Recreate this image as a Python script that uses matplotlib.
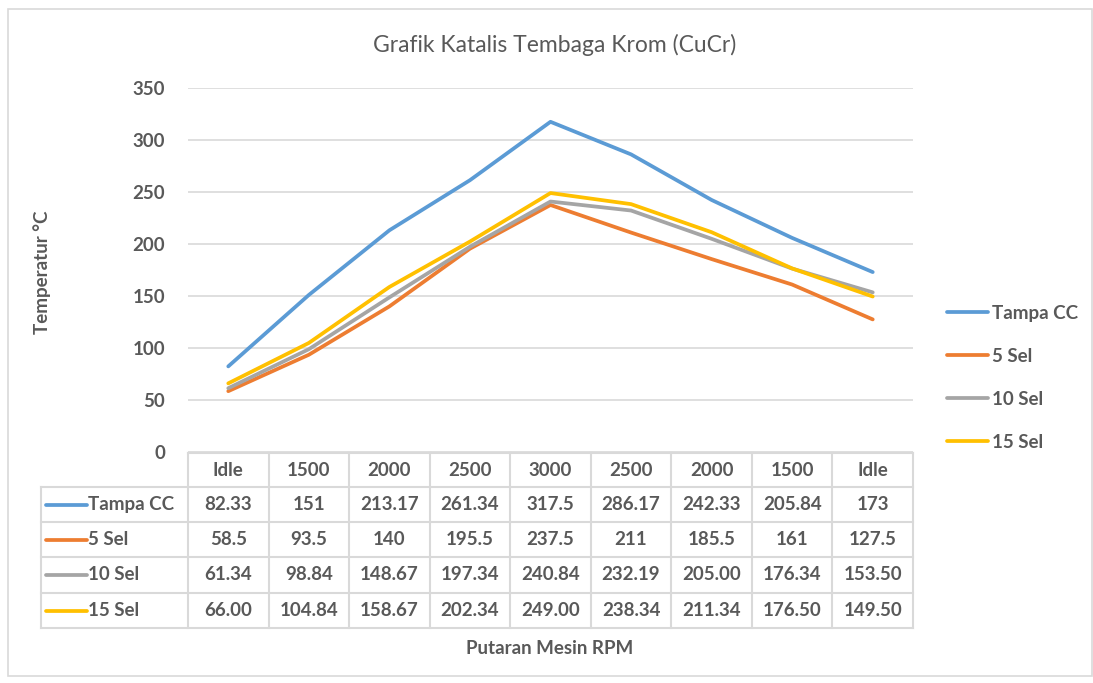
import matplotlib
matplotlib.use("Agg")
import matplotlib.pyplot as plt
from matplotlib.lines import Line2D
from matplotlib.patches import Rectangle

categories = ["Idle", "1500", "2000", "2500", "3000", "2500", "2000", "1500", "Idle"]
series_names = ["Tampa CC", "5 Sel", "10 Sel", "15 Sel"]
tampa_cc = [82.33, 151, 213.17, 261.34, 317.5, 286.17, 242.33, 205.84, 173]
sel_5 = [58.5, 93.5, 140, 195.5, 237.5, 211, 185.5, 161, 127.5]
sel_10 = [61.34, 98.84, 148.67, 197.34, 240.84, 232.19, 205.00, 176.34, 153.50]
sel_15 = [66.00, 104.84, 158.67, 202.34, 249.00, 238.34, 211.34, 176.50, 149.50]
table_text = [
    ["82.33", "151", "213.17", "261.34", "317.5", "286.17", "242.33", "205.84", "173"],
    ["58.5", "93.5", "140", "195.5", "237.5", "211", "185.5", "161", "127.5"],
    ["61.34", "98.84", "148.67", "197.34", "240.84", "232.19", "205.00", "176.34", "153.50"],
    ["66.00", "104.84", "158.67", "202.34", "249.00", "238.34", "211.34", "176.50", "149.50"],
]
yticks = [0, 50, 100, 150, 200, 250, 300, 350]
title = "Grafik Katalis Tembaga Krom (CuCr)"
ylabel = "Temperatur °C"
xlabel = "Putaran Mesin RPM"

colors = ["#5B9BD5", "#ED7D31", "#A5A5A5", "#FFC000"]
txt = "#595959"
grid = "#D9D9D9"
FONT = ["Lato", "DejaVu Sans"]
plt.rcParams['font.family'] = FONT
FS = 13.5

W, H = 1093, 683
fig = plt.figure(figsize=(W / 100, H / 100), dpi=100)
fig.patch.set_facecolor("white")

def fx(px):
    return px / W

def fy(py):
    return 1 - py / H

# outer frame
fig.add_artist(Rectangle((fx(8), fy(676)), fx(1092) - fx(8), fy(9) - fy(676),
                         transform=fig.transFigure, fill=False, edgecolor="#D9D9D9", lw=1.2))

L, R, T, B = 188, 913, 88, 452
ax = fig.add_axes([fx(L), fy(B), fx(R) - fx(L), fy(T) - fy(B)])
ax.set_xlim(-0.5, len(categories) - 0.5)
ax.set_ylim(0, 350)
ax.set_yticks(yticks)
ax.set_yticklabels([str(v) for v in yticks], color=txt, fontsize=FS, fontweight="bold")
ax.tick_params(axis="y", length=0, pad=16.5)
ax.set_xticks([])
for s in ax.spines.values():
    s.set_visible(False)
ax.yaxis.grid(True, color=grid, lw=1.2)
ax.set_axisbelow(True)

xs = list(range(len(categories)))
all_series = [tampa_cc, sel_5, sel_10, sel_15]
handles = []
for name, vals, c in zip(series_names, all_series, colors):
    h, = ax.plot(xs, vals, color=c, lw=2.7, solid_capstyle="round", label=name)
    handles.append(h)

fig.text(fx(555), fy(45), title, ha="center", va="center", color=txt, fontsize=16.5)
fig.text(fx(42), fy(272), ylabel, ha="center", va="center", rotation=90, color=txt,
         fontsize=FS, fontweight="bold")
fig.text(fx(550), fy(648), xlabel, ha="center", va="center", color=txt, fontsize=FS,
         fontweight="bold")

# legend
leg = fig.legend(handles=handles, loc="upper left", bbox_to_anchor=(fx(930), fy(288)),
                 frameon=False, prop={"family": FONT, "weight": "bold", "size": FS},
                 labelcolor=txt, handlelength=2.2, handletextpad=0.2, labelspacing=1.38)

# data table
col_edges = [ax.transData.transform((i - 0.5, 0))[0] for i in range(len(categories) + 1)]
row_edges = [453, 487, 522, 557, 593, 628]
tl = 41
tc = "#D9D9D9"

def hline(x0, x1, y):
    fig.add_artist(Line2D([fx(x0), fx(x1)], [fy(y), fy(y)], transform=fig.transFigure,
                          color=tc, lw=1.5))

def vline(x, y0, y1):
    fig.add_artist(Line2D([fx(x), fx(x)], [fy(y0), fy(y1)], transform=fig.transFigure,
                          color=tc, lw=1.5))

xr = col_edges[-1]
hline(L, xr, row_edges[0])
for y in row_edges[1:]:
    hline(tl, xr, y)
vline(tl, row_edges[1], row_edges[-1])
for x in col_edges:
    vline(x, row_edges[0], row_edges[-1])

for i, cat in enumerate(categories):
    cx = (col_edges[i] + col_edges[i + 1]) / 2
    cy = (row_edges[0] + row_edges[1]) / 2
    fig.text(fx(cx), fy(cy), cat, ha="center", va="center", color=txt, fontsize=FS,
             fontweight="bold")

for r, (name, c) in enumerate(zip(series_names, colors)):
    cy = (row_edges[r + 1] + row_edges[r + 2]) / 2
    fig.add_artist(Line2D([fx(46), fx(87)], [fy(cy), fy(cy)], transform=fig.transFigure,
                          color=c, lw=2.7, solid_capstyle="round"))
    fig.text(fx(88), fy(cy), name, ha="left", va="center", color=txt, fontsize=FS,
             fontweight="bold")
    for i in range(len(categories)):
        cx = (col_edges[i] + col_edges[i + 1]) / 2
        fig.text(fx(cx), fy(cy), table_text[r][i], ha="center", va="center", color=txt,
                 fontsize=FS, fontweight="bold")

fig.savefig("out.png", dpi=100)
